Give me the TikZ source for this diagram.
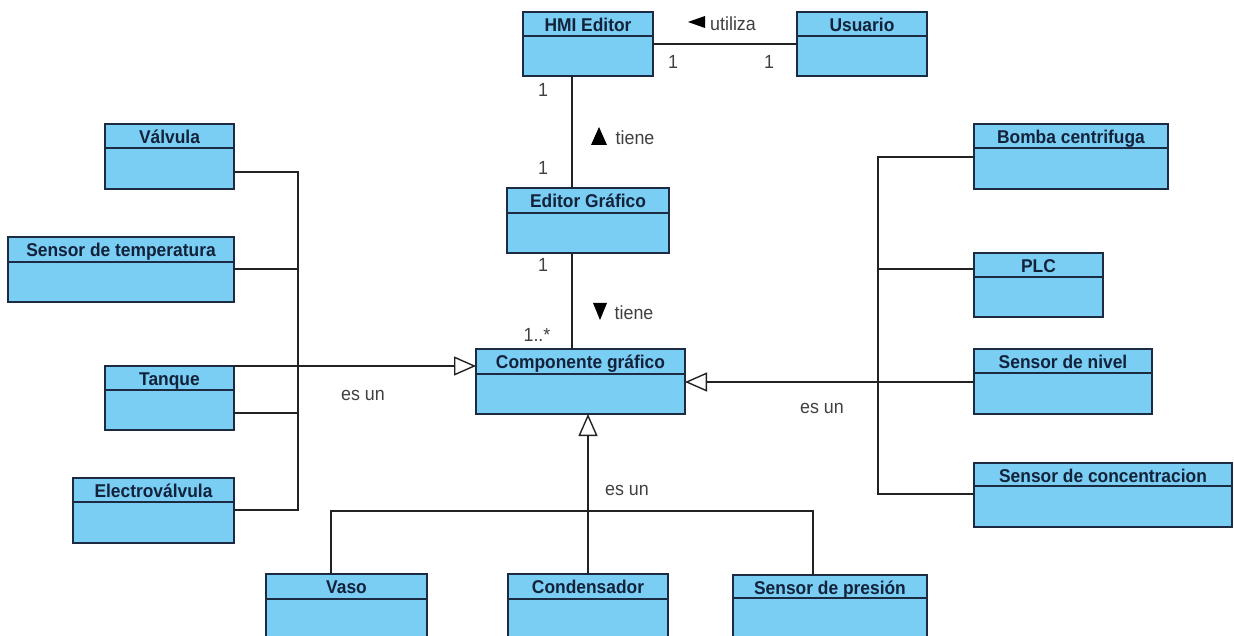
\documentclass[tikz,border=0pt]{standalone}
\usepackage{fontspec}
\setmainfont{Liberation Sans}
\newfontfamily\titlefont[FakeStretch=0.94]{Liberation Sans}
\newfontfamily\labelfont[FakeStretch=0.94]{Liberation Sans}
\usetikzlibrary{arrows.meta,calc}

\definecolor{clsfill}{RGB}{122,205,243}
\definecolor{clsedge}{RGB}{28,42,66}
\definecolor{clstext}{RGB}{18,34,58}
\definecolor{wirecol}{RGB}{34,34,34}
\definecolor{lblcol}{RGB}{64,64,64}

\tikzset{
  cls/.style={draw=clsedge, fill=clsfill, line width=1.8pt, rectangle,
    anchor=north west, inner sep=0pt, outer sep=0pt},
  clssep/.style={draw=clsedge, line width=1.5pt},
  clstitle/.style={font=\titlefont\bfseries\fontsize{18.5}{18.5}\selectfont,
    text=clstext, inner sep=0pt, anchor=base},
  wire/.style={draw=wirecol, line width=1.4pt},
  gen/.style={wire, -{Triangle[open, length=22pt, width=19pt, line width=1.4pt]}},
  lbl/.style={font=\labelfont\fontsize{19}{19}\selectfont, text=lblcol, inner sep=0pt},
  navtri/.style={fill=black},
}

% UML class box: name, x1, y1, x2, y2, separator y, title
\newcommand\umlclass[7]{%
  \pgfmathsetmacro\clsw{#4-#2}%
  \pgfmathsetmacro\clsh{#5-#3}%
  \node[cls, minimum width=\clsw pt, minimum height=\clsh pt] (#1) at (#2,#3) {};
  \draw[clssep] (#2,#6) -- (#4,#6);
  \node[clstitle] (#1-t) at ({(#2+#4)/2},{#3+19.5}) {#7};
}

\begin{document}
\begin{tikzpicture}[x=1pt,y=-1pt]
  \fill[white] (0,0) rectangle (1234,636);
  \clip (0,0) rectangle (1234,636);

  % classes
  \umlclass{hmi}{523}{12}{653}{76}{36}{HMI Editor}
  \umlclass{usu}{797}{12}{927}{76}{36}{Usuario}
  \umlclass{edt}{507}{188}{669}{253}{213}{Editor Gráfico}
  \umlclass{comp}{476}{349}{685}{414}{374}{Componente gráfico}

  \umlclass{val}{105}{124}{234}{189}{148}{Válvula}
  \umlclass{tmp}{8}{237}{234}{302}{262}{Sensor de temperatura}
  \umlclass{tan}{105}{366}{234}{430}{390}{Tanque}
  \umlclass{elv}{73}{478}{234}{543}{502}{Electroválvula}

  \umlclass{bom}{974}{124}{1168}{189}{148}{Bomba centrifuga}
  \umlclass{plc}{974}{253}{1103}{317}{277}{PLC}
  \umlclass{niv}{974}{349}{1152}{414}{373}{Sensor de nivel}
  \umlclass{con}{974}{463}{1232}{527}{486}{Sensor de concentracion}

  \umlclass{vaso}{266}{574}{427}{640}{599}{Vaso}
  \umlclass{cond}{508}{574}{668}{640}{599}{Condensador}
  \umlclass{pres}{733}{575}{927}{640}{598}{Sensor de presión}

  % associations
  \coordinate (xv) at (572,0);
  \draw[wire] (hmi.east) -- (usu.west);
  \draw[wire] (hmi.south -| xv) -- (edt.north -| xv);
  \draw[wire] (edt.south -| xv) -- (comp.north -| xv);

  % generalization, left group
  \coordinate (jl1) at (298,172);
  \coordinate (jl2) at (298,269);
  \coordinate (jl3) at (298,413);
  \coordinate (jl4) at (298,510);
  \draw[wire] (val.east |- jl1) -- (jl1) -- (jl4) -- (elv.east |- jl4);
  \draw[wire] (tmp.east |- jl2) -- (jl2);
  \draw[wire] (tan.east |- jl3) -- (jl3);
  \draw[gen] (tan.north east) -- (comp.west |- tan.north east);

  % generalization, right group
  \coordinate (jr1) at (878,157);
  \coordinate (jr2) at (878,269);
  \coordinate (jr3) at (878,494);
  \coordinate (jr4) at (878,382);
  \draw[wire] (bom.west |- jr1) -- (jr1) -- (jr3) -- (con.west |- jr3);
  \draw[wire] (plc.west |- jr2) -- (jr2);
  \draw[gen] (niv.west |- jr4) -- (comp.east |- jr4);

  % generalization, bottom group
  \coordinate (jb1) at (331,511);
  \coordinate (jb2) at (813,511);
  \draw[wire] (vaso.north -| jb1) -- (jb1) -- (jb2) -- (pres.north -| jb2);
  \draw[gen] (cond.north) -- (comp.south -| cond.north);

  % multiplicities
  \node[lbl] (m1) at (673,62) {1};
  \node[lbl] (m2) at (769,62) {1};
  \node[lbl] (m3) at (543,90) {1};
  \node[lbl] (m4) at (543,168) {1};
  \node[lbl] (m5) at (543,265) {1};
  \node[lbl] (m6) at (537,335) {1..*};

  % association names with reading direction
  \fill[navtri] (688,22) -- (705,16) -- (705,28) -- cycle;
  \node[lbl] (r1) at (733,24) {utiliza};
  \fill[navtri] (599,127) -- (607,145) -- (591,145) -- cycle;
  \node[lbl] (r2) at (635,138) {tiene};
  \fill[navtri] (593,303) -- (607,303) -- (600,320) -- cycle;
  \node[lbl] (r3) at (634,313) {tiene};

  % generalization labels
  \node[lbl] (g1) at (363,395) {es un};
  \node[lbl] (g2) at (822,408) {es un};
  \node[lbl] (g3) at (627,490) {es un};
\end{tikzpicture}
\end{document}
